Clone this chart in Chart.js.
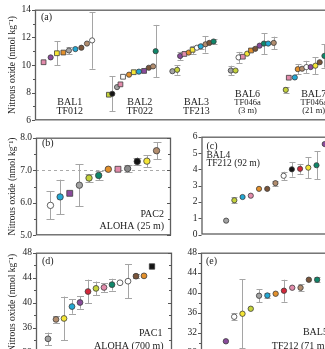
<!DOCTYPE html>
<html><head><meta charset="utf-8">
<script src="https://cdn.jsdelivr.net/npm/chart.js@4.4.1/dist/chart.umd.min.js"></script>
<style>
html,body{margin:0;padding:0;background:#fff;}
body{position:relative;width:325px;height:349px;overflow:hidden;}
canvas{position:absolute;}
</style></head><body>
<canvas id="pa"></canvas><canvas id="pb"></canvas><canvas id="pc"></canvas><canvas id="pd"></canvas><canvas id="pe"></canvas>
<script>
// ================= DATA =================
// (a) Baltic samples — lab key, position slot, N2O (nmol/kg), +/- error
const bal1Lab = ['pink','purple','yellow','orange','gray','cyan','brown','tan','white'];
const bal1X   = [2.0,3.65,5.1,6.6,7.9,9.4,10.8,12.1,13.3];
const bal1N2O = [10.2,10.55,10.85,10.9,11.05,11.15,11.25,11.55,11.78];
const bal1Err = [null,null,0.85,null,0.25,null,null,null,2.05];

const bal2Lab = ['ygreen','black','gray','pink','white','orange','yellow','cyan','purple','brown','tan','green'];
const bal2X   = [17.2,18.0,19.1,19.9,20.5,21.9,23.0,24.2,25.4,26.5,27.5,28.1];
const bal2N2O = [7.85,7.92,8.4,8.6,9.15,9.3,9.48,9.52,9.57,9.8,9.9,11.0];
const bal2Err = [null,1.25,null,null,null,null,null,null,null,null,null,1.9];

const bal3Lab = ['gray','ygreen','purple','pink','orange','yellow','white','cyan','tan','brown','green'];
const bal3X   = [32.0,33.1,33.8,34.8,35.8,36.7,37.7,38.6,39.7,40.6,41.6];
const bal3N2O = [9.55,9.65,10.65,10.8,10.9,11.1,11.25,11.35,11.5,11.6,11.7];
const bal3Err = [null,0.35,0.3,null,null,0.3,null,0.2,0.6,null,0.15];

const bal6Lab = ['gray','ygreen','white','pink','yellow','orange','brown','purple','green','cyan','tan'];
const bal6X   = [45.6,46.7,47.4,48.4,49.4,50.3,51.3,52.3,53.3,54.3,55.6];
const bal6N2O = [9.6,9.6,10.55,10.6,10.82,11.05,11.17,11.4,11.55,11.55,11.6];
const bal6Err = [0.35,null,0.4,null,null,null,null,null,0.75,null,0.45];

const bal7Lab = ['ygreen','pink','cyan','orange','tan','white','purple','yellow','brown','green'];
const bal7X   = [58.4,59.1,60.5,61.2,62.2,63.2,64.2,65.3,66.3,67.4];
const bal7N2O = [8.2,9.08,9.1,9.7,9.73,9.85,9.85,9.95,10.2,10.66];
const bal7Err = [0.2,null,null,0.35,null,0.45,null,0.6,null,0.85];

const groupNames  = ['BAL1','BAL2','BAL3','BAL6','BAL7'];
const groupSites  = ['TF012','TF022','TF213','TF046a','TF046a'];
const groupDepths = [null,null,null,'(3 m)','(21 m)'];
const groupX      = [8.1,24.4,37.6,49.5,64.9];

// (b) PAC2 ALOHA 25 m
const pac2Lab = ['white','cyan','purple','gray','ygreen','green','orange','pink','dgray','black','yellow','tan'];
const pac2N2O = [5.92,6.18,6.29,6.54,6.76,6.84,7.03,7.03,7.05,7.27,7.28,7.6];
const pac2Err = [0.43,0.53,null,0.65,0.12,0.15,null,null,0.1,0.12,0.18,0.26];
const pac2Ref = 7.0;

// (c) BAL4 TF212 92 m
const bal4Lab = ['gray','ygreen','cyan','pink','orange','brown','tan','white','black','red','yellow','green','purple'];
const bal4N2O = [0.85,2.1,2.3,2.38,2.8,2.8,3.15,3.6,4.0,4.03,4.1,4.25,5.55];
const bal4Err = [null,0.18,null,null,null,null,0.15,0.25,0.45,0.3,0.65,0.85,null];

// (d) PAC1 ALOHA 700 m
const pac1Lab = ['gray','tan','yellow','cyan','purple','red','ygreen','pink','green','white','white','brown','orange','black'];
const pac1N2O = [34.25,37.35,37.5,39.4,40.05,41.8,42.3,42.45,42.9,43.2,43.45,44.25,44.3,45.8];
const pac1Err = [1.0,0.5,3.5,1.15,1.0,1.9,1.1,0.7,0.95,null,2.7,0.3,null,null];

// (e) BAL5 TF212 71 m
const bal5Lab = ['purple','white','yellow','ygreen','gray','cyan','orange','red','pink','tan','brown','green'];
const bal5N2O = [30.3,35.2,35.8,36.8,39.4,39.45,39.8,40.4,41.0,41.0,42.6,42.6];
const bal5Err = [null,0.7,6.9,null,1.35,0.5,null,2.2,null,0.7,null,0.5];

const yTitle = 'Nitrous oxide (nmol kg⁻¹)';

// ================= STYLE =================
const palette = {pink:'#e28bab', purple:'#8a4b9c', yellow:'#f4e536', ygreen:'#c4d23a', orange:'#e3902c',
  gray:'#a3a3a3', dgray:'#8a8a8a', cyan:'#23a8d4', brown:'#7a553a', tan:'#b28d6e', white:'#ffffff',
  black:'#141414', green:'#0f876a', red:'#d3283a'};
const SERIF = '"Liberation Serif","Times New Roman",serif';
const squaresA = [[0,2,3],[0,3,4,6,8],[3,5],[3,5],[1]];

function idx(n, off){ return Array.from({length:n}, (_, i) => i + off); }

function makeDataset(xs, ys, labs, errs, r, sq){
  return {
    data: xs.map((x,i)=>({x, y: ys[i]})),
    err: errs,
    pointStyle: ys.map((_,i)=> sq.includes(i) ? 'rect' : 'circle'),
    pointRadius: ys.map((_,i)=> sq.includes(i) ? r*1.3 : r),
    pointBackgroundColor: labs.map(l=>palette[l]),
    pointBorderColor: '#3c3c3c',
    pointBorderWidth: 0.8,
    showLine:false
  };
}

function decor(cfg){
  return {
    id:'decor'+cfg.id,
    beforeDatasetsDraw(chart){
      const ctx = chart.ctx, xs = chart.scales.x, ys = chart.scales.y, ca = chart.chartArea;
      ctx.save();
      if (cfg.refLine != null){
        const y = Math.round(ys.getPixelForValue(cfg.refLine))+0.5;
        ctx.strokeStyle = '#aaaaaa'; ctx.lineWidth = 1; ctx.setLineDash([3,3]);
        ctx.beginPath(); ctx.moveTo(ca.left, y); ctx.lineTo(ca.right, y); ctx.stroke();
        ctx.setLineDash([]);
      }
      ctx.beginPath(); ctx.rect(ca.left, ca.top, ca.right-ca.left, ca.bottom-ca.top); ctx.clip();
      ctx.strokeStyle = '#a5a5a5'; ctx.lineWidth = 1;
      chart.data.datasets.forEach(ds => ds.err.forEach((e,i)=>{
        if (e == null) return;
        const px = Math.round(xs.getPixelForValue(ds.data[i].x))+0.5;
        const y1 = ys.getPixelForValue(ds.data[i].y + e), y2 = ys.getPixelForValue(ds.data[i].y - e);
        ctx.beginPath();
        ctx.moveTo(px, y1); ctx.lineTo(px, y2);
        ctx.moveTo(px-cfg.cap, Math.round(y1)+0.5); ctx.lineTo(px+cfg.cap, Math.round(y1)+0.5);
        ctx.moveTo(px-cfg.cap, Math.round(y2)+0.5); ctx.lineTo(px+cfg.cap, Math.round(y2)+0.5);
        ctx.stroke();
      }));
      ctx.restore();
    },
    afterDraw(chart){
      const ctx = chart.ctx, xs = chart.scales.x, ys = chart.scales.y, ca = chart.chartArea;
      ctx.save();
      // frame
      ctx.strokeStyle = '#5e5e5e'; ctx.lineWidth = 1.3;
      ctx.strokeRect(ca.left+0.5, ca.top+0.5, ca.right-ca.left-1, ca.bottom-ca.top-1);
      // ticks
      ctx.lineWidth = 1; ctx.strokeStyle = '#555';
      const n = Math.round((cfg.ymax-cfg.ymin)/cfg.minor);
      for (let k=0;k<=n;k++){
        const v = cfg.ymin + k*cfg.minor;
        const major = Math.abs((v-cfg.ymin)/cfg.step - Math.round((v-cfg.ymin)/cfg.step)) < 1e-6;
        const L = major ? 3 : 2;
        const y = Math.round(ys.getPixelForValue(v))+0.5;
        ctx.beginPath();
        ctx.moveTo(ca.left-L, y); ctx.lineTo(ca.left, y);
        ctx.moveTo(ca.right-L-1, y); ctx.lineTo(ca.right, y);
        ctx.stroke();
      }
      // texts
      ctx.fillStyle = '#222'; ctx.textBaseline = 'middle';
      ctx.font = '10px '+SERIF; ctx.textAlign = 'left';
      ctx.fillText(cfg.letter, ca.left + cfg.letterDx, ca.top + cfg.letterDy);
      (cfg.texts||[]).forEach(t=>{
        ctx.font = t.size+'px '+SERIF;
        ctx.textAlign = t.align;
        const x = t.xv != null ? xs.getPixelForValue(t.xv) : (t.fromRight ? ca.right - t.dx : ca.left + t.dx);
        const y = t.fromBottom ? ca.bottom - t.dy : ca.top + t.dy;
        ctx.fillText(t.text, x, y);
      });
      ctx.restore();
    }
  };
}

function panel(cfg){
  const cv = document.getElementById(cfg.id);
  cv.width = cfg.w; cv.height = cfg.h;
  cv.style.left = cfg.left+'px'; cv.style.top = cfg.top+'px';
  new Chart(cv, {
    type:'scatter',
    data:{datasets: cfg.datasets},
    options:{
      responsive:false, animation:false, devicePixelRatio:1,
      layout:{autoPadding:false, padding:{left:0, top:cfg.pt, right:cfg.pr, bottom:cfg.pb}},
      plugins:{legend:{display:false}, tooltip:{enabled:false}},
      elements:{point:{hoverRadius:0}},
      scales:{
        x:{type:'linear', display:false, min:cfg.xmin, max:cfg.xmax},
        y:{type:'linear', min:cfg.ymin, max:cfg.ymax,
          afterFit: s => { s.width = cfg.yw; },
          grid:{display:false, drawTicks:false},
          border:{display:false},
          ticks:{stepSize:cfg.step, padding:4, color:'#222', autoSkip:false,
            font:{family:SERIF, size:9.5}, callback: v => Number(v).toFixed(cfg.dec)},
          title:{display:cfg.title, text:yTitle, color:'#222', padding:{top:7,bottom:0},
            font:{family:SERIF, size:9.5}}
        }
      }
    },
    plugins:[decor(cfg)]
  });
}

// (a)
const aX = [bal1X,bal2X,bal3X,bal6X,bal7X], aY=[bal1N2O,bal2N2O,bal3N2O,bal6N2O,bal7N2O];
const aL = [bal1Lab,bal2Lab,bal3Lab,bal6Lab,bal7Lab], aE=[bal1Err,bal2Err,bal3Err,bal6Err,bal7Err];
const aTexts = [];
groupNames.forEach((g,i)=>{
  if (groupDepths[i]){
    aTexts.push({text:g, xv:groupX[i], align:'center', size:10, fromBottom:true, dy:26});
    aTexts.push({text:groupSites[i], xv:groupX[i], align:'center', size:8.5, fromBottom:true, dy:18});
    aTexts.push({text:groupDepths[i], xv:groupX[i], align:'center', size:8.5, fromBottom:true, dy:10});
  } else {
    aTexts.push({text:g, xv:groupX[i], align:'center', size:10, fromBottom:true, dy:18});
    aTexts.push({text:groupSites[i], xv:groupX[i], align:'center', size:10, fromBottom:true, dy:9});
  }
});
panel({id:'pa', left:0, top:0, w:400, h:130, pt:7, pb:8, pr:0, yw:35,
  xmin:0, xmax:85, ymin:6, ymax:14, step:2, minor:1, dec:0, title:true, cap:3,
  letter:'(a)', letterDx:6, letterDy:8,
  datasets: aX.map((xs,i)=>makeDataset(xs, aY[i], aL[i], aE[i], 2.6, squaresA[i])),
  texts:aTexts});

// (b)
panel({id:'pb', left:0, top:128, w:180, h:117, pt:8, pb:8.3, pr:9, yw:36,
  xmin:-0.5, xmax:13.5, ymin:5, ymax:8, step:1, minor:0.5, dec:1, title:true, cap:4, refLine:pac2Ref,
  letter:'(b)', letterDx:6, letterDy:6,
  datasets:[makeDataset(idx(pac2N2O.length,1), pac2N2O, pac2Lab, pac2Err, 3.2, [2,7])],
  texts:[{text:'PAC2', align:'right', size:10, fromRight:true, dx:7, fromBottom:true, dy:20.5},
         {text:'ALOHA (25 m)', align:'right', size:10, fromRight:true, dx:7, fromBottom:true, dy:9}]});

// (c)
panel({id:'pc', left:172, top:127, w:248, h:118, pt:8, pb:10.5, pr:0, yw:29.5,
  xmin:-2, xmax:24.6, ymin:0, ymax:6, step:1, minor:1, dec:0, title:false, cap:3,
  letter:'(c)', letterDx:5, letterDy:10,
  datasets:[makeDataset(idx(bal4N2O.length,1), bal4N2O, bal4Lab, bal4Err, 2.6, [])],
  texts:[{text:'BAL4', align:'left', size:9.5, dx:5, dy:18.5},
         {text:'TF212 (92 m)', align:'left', size:9.5, dx:5, dy:27}]});

// (d)
panel({id:'pd', left:0, top:243, w:180, h:120, pt:7.5, pb:10.1, pr:8, yw:36,
  xmin:-0.5, xmax:16.5, ymin:32, ymax:48, step:4, minor:2, dec:0, title:true, cap:3.5,
  letter:'(d)', letterDx:6, letterDy:8.5,
  datasets:[makeDataset(idx(pac1N2O.length,1), pac1N2O, pac1Lab, pac1Err, 2.9, [13])],
  texts:[{text:'PAC1', align:'right', size:10, fromRight:true, dx:9.5, dy:80.5},
         {text:'ALOHA (700 m)', align:'right', size:10, fromRight:true, dx:8.5, dy:93.5}]});

// (e)
panel({id:'pe', left:172, top:243, w:248, h:120, pt:7, pb:10.2, pr:0, yw:29,
  xmin:-2, xmax:24.4, ymin:28, ymax:48, step:4, minor:2, dec:0, title:false, cap:3,
  letter:'(e)', letterDx:5, letterDy:9,
  datasets:[makeDataset(idx(bal5N2O.length,1), bal5N2O, bal5Lab, bal5Err, 2.7, [])],
  texts:[{text:'BAL5', xv:13.3, align:'right', size:10, dy:79.3},
         {text:'TF212 (71 m)', xv:13.3, align:'right', size:10, dy:93.3}]});
</script>
</body></html>
